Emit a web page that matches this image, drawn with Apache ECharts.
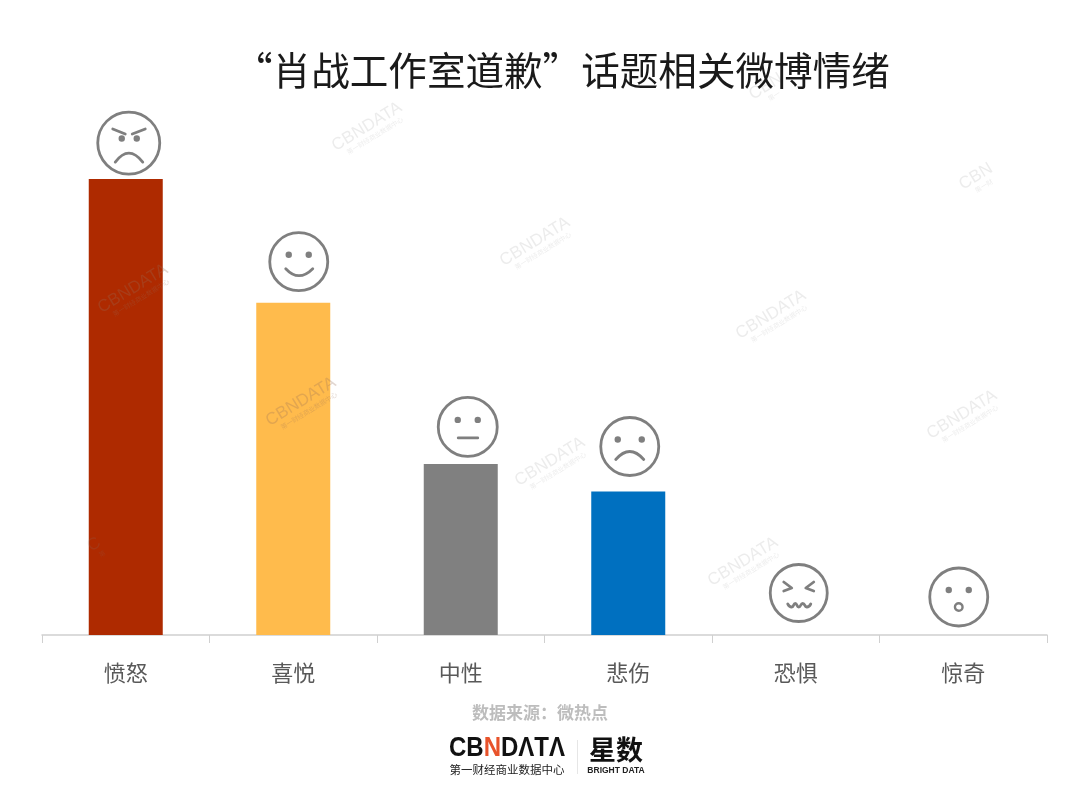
<!DOCTYPE html>
<html><head><meta charset="utf-8">
<style>html,body{margin:0;padding:0;background:#fff}#c{width:1080px;height:788px}</style>
<script src="https://cdn.jsdelivr.net/npm/echarts@6/dist/echarts.min.js"></script></head>
<body><div id="c"></div>
<script>
const categories = ['愤怒','喜悦','中性','悲伤','恐惧','惊奇'];
const values = [41.3, 30.1, 15.5, 13.0, 0, 0];
const barColors = ['#AE2A00','#FFBB4C','#808080','#0070C0','#808080','#808080'];
const faceKinds = ['angry','happy','neutral','sad','fear','surprise'];

const FONT = '"Noto Sans CJK SC","Noto Sans",sans-serif';
const GREY = '#7f7f7f';
// pixel placement of each emoticon relative to the top of its bar: [dx, dy, radius]
const facePlacement = [[3,-36,31],[5.5,-41,29],[7,-37,29.5],[1.5,-45,29],[3,-42,28.5],[-4.5,-38,29]];

const stroke = w => ({stroke:GREY, lineWidth:w, fill:'none', lineCap:'round', lineJoin:'round'});
const dot = (x,y,r=3.2) => ({type:'circle', shape:{cx:x,cy:y,r}, style:{fill:GREY}});
const curve = (x1,y1,x2,y2,cx,cy,w=2.8) => ({type:'bezierCurve', shape:{x1,y1,x2,y2,cpx1:cx,cpy1:cy}, style:stroke(w)});
const line = (x1,y1,x2,y2,w=2.8) => ({type:'line', shape:{x1,y1,x2,y2}, style:stroke(w)});
const poly = (points,smooth=0,w=2.8) => ({type:'polyline', shape:{points,smooth}, style:stroke(w)});

const features = {
  angry: () => [dot(-7,-4.5), dot(8,-4.5),
    poly([[-16,-14],[-3.5,-9]]), poly([[3.5,-9],[16.5,-14]]),
    curve(-13.5,19,14,19,0,1)],
  happy: () => [dot(-10,-7), dot(10,-7), curve(-13,7,14,7,0,21)],
  neutral: () => [dot(-10,-7), dot(10,-7), line(-9.5,11,10,11)],
  sad: () => [dot(-12,-7), dot(12,-7), curve(-14,13,14,13,0,-3)],
  fear: () => [poly([[-15,-11],[-7,-5],[-15,-2]]), poly([[15,-11],[7,-5],[15,-2]]),
    poly([[-11,11],[-7,14],[-3.5,10.5],[0,14],[4,10.5],[8,14],[12,11]],0.6)],
  surprise: () => [dot(-10,-7), dot(10,-7),
    {type:'circle', shape:{cx:0,cy:10,r:3.8}, style:stroke(2.4)}]
};

const chart = echarts.init(document.getElementById('c'), null, {renderer:'canvas'});

const marks = [[369,130],[537,245],[773,318],[552,465],[964,418],[745,565]];
const marksOnBars = [[135,292],[303,405]];
const watermark = (x,y,text,sub,fill='rgba(125,125,125,0.15)') => ({
  type:'group', x, y, rotation:0.55, silent:true,
  children:[
    {type:'text', z:20, style:{text, x:0, y:-4, align:'center', verticalAlign:'middle', font:'17px "Liberation Sans",sans-serif', fill}},
    {type:'text', z:20, style:{text:sub, x:2, y:8, align:'center', verticalAlign:'middle', font:'6.5px '+FONT, fill}}
  ]
});

const logoFont = 'bold 27px "Liberation Sans",sans-serif';

chart.setOption({
  animation:false,
  backgroundColor:'#fff',
  textStyle:{fontFamily:FONT},
  grid:{left:42, right:33, top:83, bottom:153},
  xAxis:{
    type:'category', data:categories,
    axisLine:{lineStyle:{color:'#d0d0d0',width:1.5}},
    axisTick:{show:true, alignWithLabel:false, length:8, lineStyle:{color:'#d0d0d0',width:1}},
    axisLabel:{color:'#595959', fontSize:22, margin:27, fontFamily:FONT}
  },
  yAxis:{type:'value', min:0, max:50, show:false, splitLine:{show:false}},
  series:[
    {type:'bar', barWidth:74, z:2,
     data:values.map((v,i)=>({value:v, itemStyle:{color:barColors[i]}}))},
    {type:'custom', z:3, silent:true,
     data:values.map((v,i)=>[i,v]),
     encode:{x:0,y:1},
     renderItem:(params,api)=>{
       const i = api.value(0);
       const p = api.coord([i, api.value(1)]);
       const [dx,dy,r] = facePlacement[i];
       return {type:'group', x:p[0]+dx, y:p[1]+dy, children:[
         {type:'circle', shape:{cx:0,cy:0,r}, style:{fill:'#fff',stroke:GREY,lineWidth:2.8}},
         ...features[faceKinds[i]]()
       ]};
     }}
  ],
  graphic:[
    {type:'text', z:30, style:{text:'“肖战工作室道歉”话题相关微博情绪', x:234, y:70, verticalAlign:'middle',
      font:'38.6px '+FONT, fill:'#1a1a1a'}},
    {type:'text', z:30, style:{text:'数据来源：微热点', x:540, y:713, align:'center', verticalAlign:'middle',
      font:'bold 17px '+FONT, fill:'#bdbdbd'}},
    {type:'text', z:30, x:507, y:749, scaleX:0.89, style:{text:'{a|CB}{n|N}{a|DΛTΛ}', x:0, y:0, align:'center', verticalAlign:'middle',
      rich:{a:{font:logoFont, fill:'#111'}, n:{font:logoFont, fill:'#E8532B'}}}},
    {type:'text', z:30, style:{text:'第一财经商业数据中心', x:507, y:770, align:'center', verticalAlign:'middle',
      font:'11.5px '+FONT, fill:'#222'}},
    {type:'rect', z:30, shape:{x:577,y:740,width:1,height:34}, style:{fill:'#e6e6e6'}},
    {type:'text', z:30, style:{text:'星数', x:616, y:750, align:'center', verticalAlign:'middle',
      font:'bold 27px '+FONT, fill:'#111'}},
    {type:'text', z:30, style:{text:'BRIGHT DATA', x:616, y:771, align:'center', verticalAlign:'middle',
      font:'bold 8.5px "Liberation Sans",sans-serif', fill:'#222'}},
    ...marks.map(([x,y])=>watermark(x,y,'CBNDATA','第一财经商业数据中心')),
    ...marksOnBars.map(([x,y])=>watermark(x,y,'CBNDATA','第一财经商业数据中心','rgba(150,110,90,0.28)')),
    watermark(978,180,'CBN','第一财'),
    watermark(768,90,'CBN','第一'),
    watermark(96,548,'C','第')
  ]
});
</script></body></html>
